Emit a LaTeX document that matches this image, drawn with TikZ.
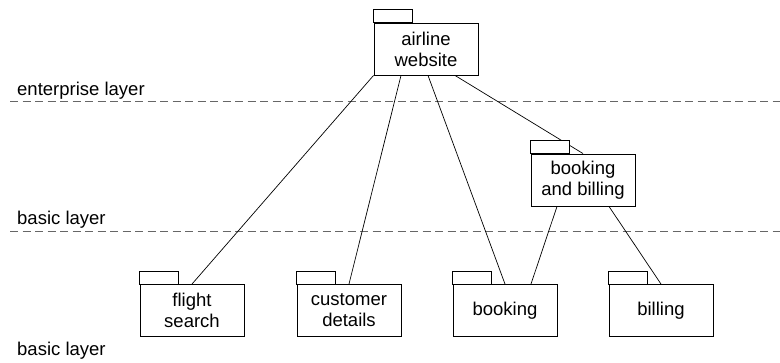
\documentclass[tikz,border=0pt]{standalone}
\usepackage{fontspec}
\setmainfont{Liberation Sans}
\begin{document}
\begin{tikzpicture}[x=1pt,y=-1pt,
  pkg/.style={draw=black,fill=white,line width=0.9pt,minimum width=104pt,minimum height=52pt,
    inner sep=0pt,align=center,font=\fontsize{18.5}{21}\selectfont},
  tabbox/.style={draw=black,fill=white,line width=0.8pt},
  conn/.style={draw=black,line width=0.7pt},
  layerline/.style={draw=black!60,line width=1pt,dash pattern=on 8pt off 4.5pt},
  layerlabel/.style={anchor=base west,inner sep=0pt,font=\fontsize{18.5}{21}\selectfont}]
\useasboundingbox (0,0) rectangle (780,363);
% packages (positions)
\coordinate (cair) at (426,49);
\coordinate (cbb) at (583,180);
\coordinate (cfs) at (192,310.5);
\coordinate (ccd) at (349,310.5);
\coordinate (cbo) at (505,310.5);
\coordinate (cbi) at (661,310.5);
% layers
\coordinate (l1a) at (10,102);
\coordinate (l1b) at (780,102);
\coordinate (l2a) at (10,232);
\coordinate (l2b) at (780,232);
\draw[layerline] (l1a) -- (l1b);
\draw[layerline] (l2a) -- (l2b);
\node[layerlabel] (lab1) at (17,96) {enterprise layer};
\node[layerlabel] (lab2) at (17,225) {basic layer};
\node[layerlabel] (lab3) at (17,356) {basic layer};
% nodes (invisible first for anchors)
\node[pkg,draw=none,fill=none] (air) at (cair) {\phantom{x}};
\node[pkg,draw=none,fill=none] (bb) at (cbb) {\phantom{x}};
\node[pkg,draw=none,fill=none] (fs) at (cfs) {\phantom{x}};
\node[pkg,draw=none,fill=none] (cd) at (ccd) {\phantom{x}};
\node[pkg,draw=none,fill=none] (bo) at (cbo) {\phantom{x}};
\node[pkg,draw=none,fill=none] (bi) at (cbi) {\phantom{x}};
% connectors
\draw[conn] (air.south west) -- (fs.north);
\draw[conn] ([xshift=-25pt]air.south) -- (cd.north);
\draw[conn] ([xshift=2pt]air.south) -- (bo.north);
\draw[conn] ([xshift=29pt]air.south) -- (bb.north);
\draw[conn] ([xshift=-26pt]bb.south) -- ([xshift=26pt]bo.north);
\draw[conn] ([xshift=26pt]bb.south) -- (bi.north);
% package drawings
\foreach \n/\t in {air/{airline\\website},bb/{booking\\and billing},fs/{flight\\search},cd/{customer\\details},bo/{booking},bi/{billing}}{
  \draw[tabbox] (\n.north west) rectangle ([xshift=39pt,yshift=13pt]\n.north west);
  \node[pkg] at (\n) {\t};
}
\end{tikzpicture}
\end{document}
